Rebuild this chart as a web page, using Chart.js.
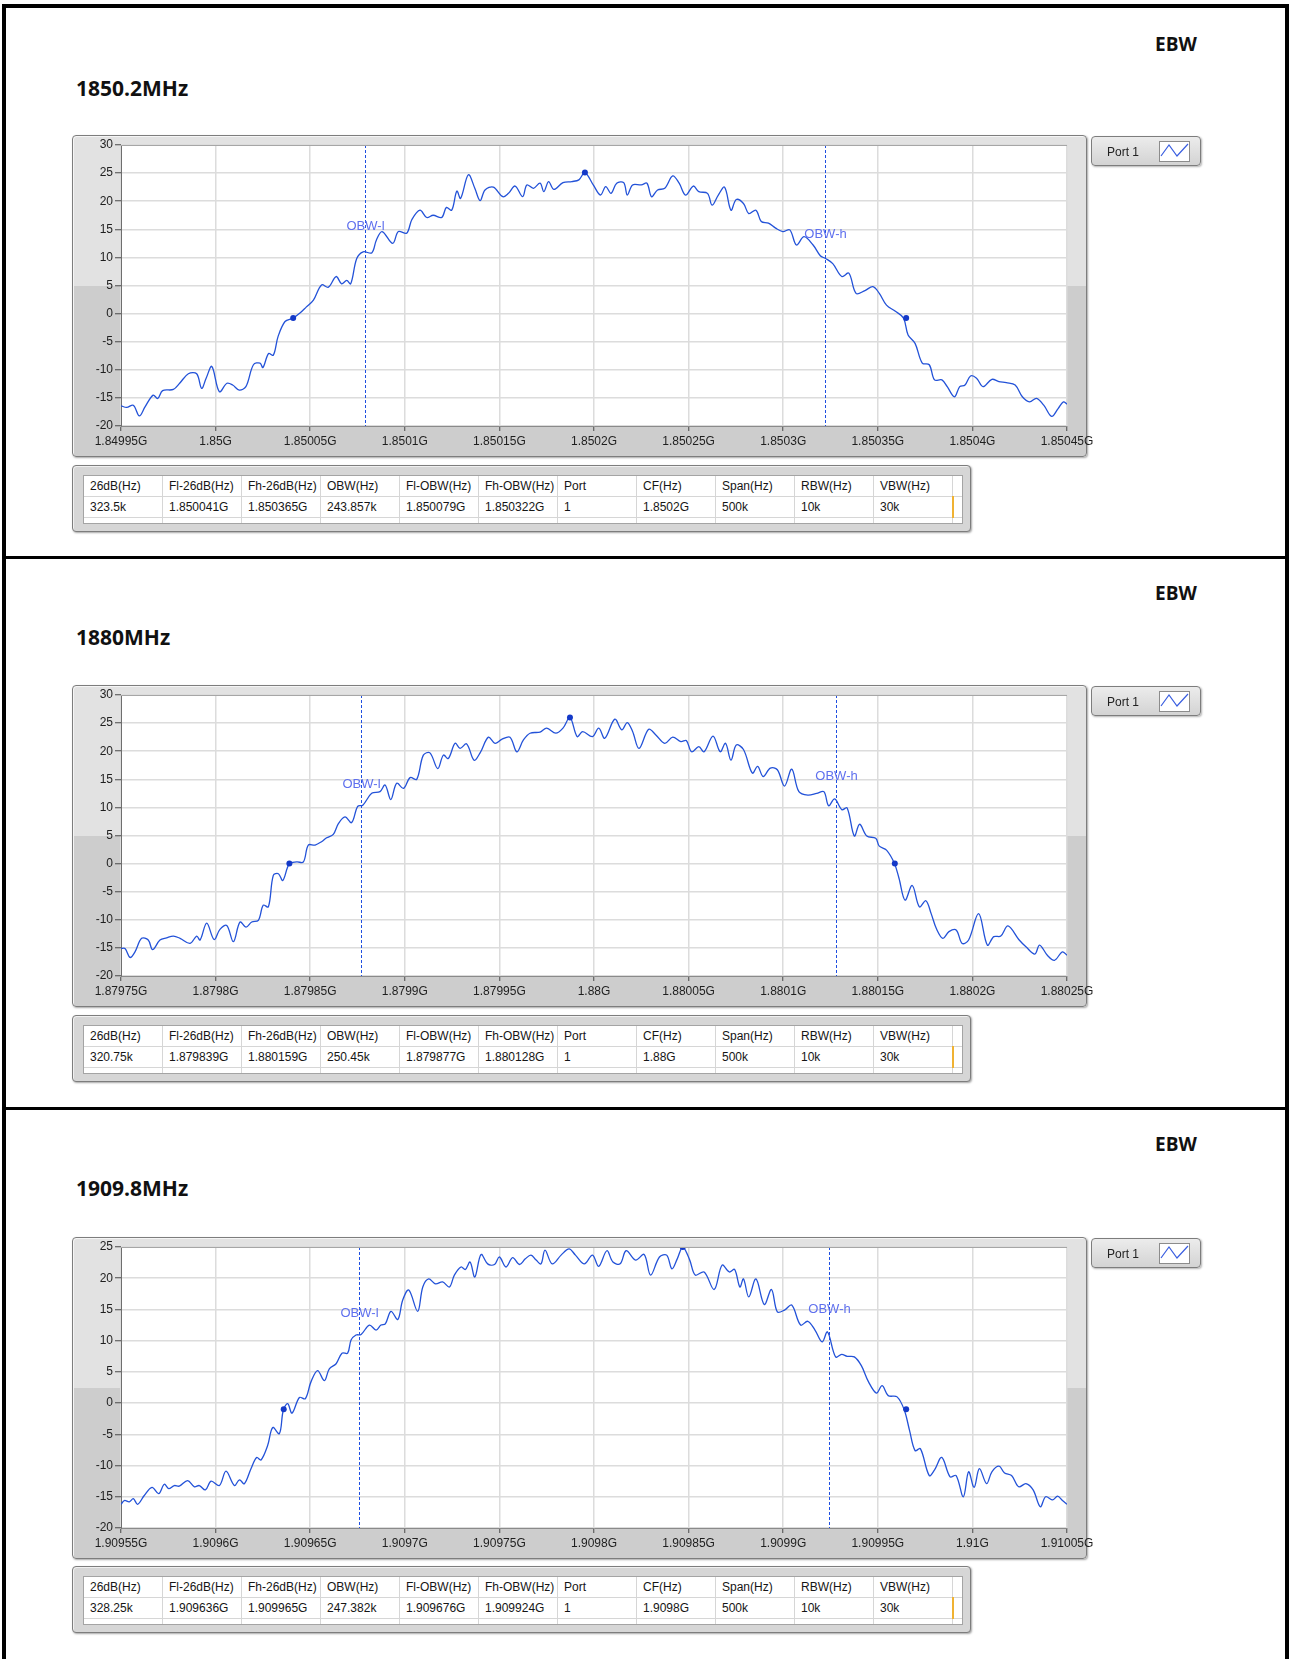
<!DOCTYPE html>
<html>
<head>
<meta charset="utf-8">
<title>EBW</title>
<script src="https://cdn.jsdelivr.net/npm/chart.js@4.4.1/dist/chart.umd.min.js"></script>
<style>
  html, body { margin: 0; padding: 0; background: #fff; }
  body { position: relative; width: 1290px; height: 1659px; overflow: hidden; font-family: "Liberation Sans", Arial, sans-serif; }
  .page { position: absolute; left: 2px; top: 4px; width: 1279px; height: 1700px; border: 4px solid #000; }
  .divider { position: absolute; left: 2px; width: 1287px; height: 3px; background: #000; }
  .ebw { position: absolute; left: 1155px; font: bold 19px "Open Sans", sans-serif; line-height: 19px; color: #111; }
  .title { position: absolute; left: 76px; font: bold 21px "Open Sans", sans-serif; line-height: 21px; color: #111; }
  .frame {
    position: absolute; left: 72px; width: 1015px; height: 322px; box-sizing: border-box;
    border: 1px solid #7d7d7d; border-radius: 4px;
    background: linear-gradient(to bottom, #e2e2e2 0, #e2e2e2 47%, #cdcdcd 47%, #cdcdcd 100%);
    box-shadow: 1px 1px 2px rgba(0, 0, 0, 0.35), inset 1px 1px 0 #f5f5f5;
  }
  canvas.plot { position: absolute; left: 72px; }
  .legend {
    position: absolute; left: 1091px; width: 110px; height: 30px; box-sizing: border-box;
    border: 1px solid #7d7d7d; border-radius: 4px;
    background: linear-gradient(#ececec, #d3d3d3);
    box-shadow: 1px 1px 2px rgba(0, 0, 0, 0.3);
    font-size: 12px; color: #222;
  }
  .legend span { position: absolute; left: 15px; top: 8px; }
  .legend svg { position: absolute; left: 67px; top: 4px; }
  .tbl {
    position: absolute; left: 72px; width: 899px; height: 67px; box-sizing: border-box;
    border: 1px solid #7d7d7d; border-radius: 4px; background: #d6d6d6;
    box-shadow: 1px 1px 2px rgba(0, 0, 0, 0.35), inset 1px 1px 0 #f0f0f0;
  }
  .tbl .inner {
    position: absolute; left: 10px; top: 9px; width: 880px; height: 49px;
    background: #fff; border: 1px solid #a4a4a4; box-sizing: border-box; overflow: hidden;
  }
  .tbl table { border-collapse: collapse; table-layout: fixed; width: 880px; font-size: 12px; color: #151515; margin: -1px 0 0 -1px; }
  .tbl td { border: 1px solid #d6d6d6; padding: 0 0 0 6px; height: 20px; white-space: nowrap; overflow: hidden; }
  .tbl td.mark { border-left: 2px solid #f0b232; }
</style>
</head>
<body>
<div class="page"></div>
<div class="divider" style="top:556px"></div>
<div class="divider" style="top:1107px"></div>
<div id="root"></div>
<script>
const titles = ["1850.2MHz", "1880MHz", "1909.8MHz"]
const spanStartHz = [1849950000, 1879750000, 1909550000]
const spanHz = 500000
const yMin = [-20, -20, -20]
const yMax = [30, 30, 25]

// [kHz from span start, dB]
const trace1 = [[0,-16.4],[3,-16.7],[6.5,-16.3],[9.7,-18.2],[12.7,-16.6],[17,-14.5],[19.4,-15.1],[22,-13.7],[27.7,-13.5],[31,-12.4],[35.6,-10.7],[40,-10.7],[42.6,-13.3],[45,-11.5],[48,-9.4],[52,-13.9],[56,-12.4],[59,-12.7],[62.5,-13.6],[66,-13.0],[70,-9.1],[73.5,-8.8],[75,-9.6],[78,-7.1],[80.5,-7.4],[83,-4.1],[86.7,-1.4],[91,-0.8],[94.6,0.1],[98,1.2],[101.7,2.4],[106,5.1],[109.6,4.7],[113.7,6.6],[116.6,5.3],[119.3,5.9],[121.4,5.3],[124.6,9.8],[128,11.0],[132.5,10.8],[135,13.1],[138,14.6],[143.6,12.5],[146.6,14.6],[151,14.3],[153.7,16.7],[158,18.4],[161.6,17.1],[165,17.5],[169.5,17.1],[172,18.9],[174.8,18.4],[177.5,21.8],[179.5,20.5],[183.6,24.7],[187,22.3],[189.8,20.1],[192.4,22.0],[196.8,22.5],[201.8,20.8],[204.8,21.4],[208.3,22.7],[212.3,20.8],[214.5,22.9],[218,22.3],[221.5,23.2],[223.5,21.7],[226,23.5],[228.8,22.1],[233.6,23.3],[238.3,23.5],[242,23.8],[245.2,25.1],[249.6,22.9],[253.4,21.1],[256.2,22.6],[259,21.4],[262,23.2],[265.7,23.3],[267.6,21.1],[270.4,22.9],[275,22.9],[278,23.2],[280.4,20.8],[283.6,22.0],[287.4,22.3],[291.6,24.5],[295,23.2],[298.4,21.1],[302.5,22.7],[305.4,21.7],[310,21.4],[312.4,19.3],[315.7,21.1],[319,22.5],[322.4,18.4],[325.2,20.3],[329,19.6],[331.8,17.8],[335.6,18.4],[338.4,16.4],[342.2,16.1],[346,15.2],[349.8,14.6],[353.5,14.9],[357,12.2],[361,13.7],[365.8,12.2],[369.6,10.3],[372.4,9.8],[376.2,8.9],[381,6.6],[384.7,7.2],[388.5,3.6],[393.2,4.1],[397.4,4.8],[400.8,3.6],[404.6,1.5],[409.3,0.4],[413.6,-0.8],[416,-3.8],[419.7,-5.3],[423.5,-8.8],[427.2,-9.1],[430,-11.8],[433.9,-11.8],[436.7,-13.0],[440.5,-14.8],[443.3,-13.0],[446.1,-12.7],[449,-11.1],[452.2,-11.5],[455.6,-13.0],[460.3,-11.7],[464,-12.1],[467.9,-12.3],[472.6,-12.7],[476.4,-14.8],[480.2,-15.7],[483.9,-15.1],[487.7,-16.3],[491.9,-18.3],[495.3,-16.9],[498.1,-15.7],[500,-16.1]]

const trace2 = [[0,-15.1],[2.1,-15.1],[4.8,-16.7],[7.4,-15.7],[10.9,-13.3],[14.4,-13.6],[16.7,-15.3],[20.6,-13.6],[24.1,-13.2],[27.7,-12.9],[31.2,-13.3],[36.5,-14.2],[40,-12.9],[41.8,-13.6],[45.3,-10.6],[49.2,-13.5],[52.3,-11.7],[55.9,-11.0],[59.4,-13.9],[62.9,-10.4],[66.1,-11.3],[69.1,-10.4],[72.6,-10.1],[75.2,-7.4],[77.9,-7.7],[80.5,-2.1],[83.2,-1.8],[85.5,-3.0],[89,0.0],[92.9,0.3],[96.4,0.3],[99,3.3],[102.6,3.3],[106,3.9],[108.7,4.6],[112.2,5.2],[114.9,7.1],[118.4,8.3],[121.9,7.3],[125.1,10.2],[127.8,10.4],[132.5,12.5],[136.9,12.8],[139.6,14.0],[142.6,11.4],[145.7,14.3],[149.3,13.4],[152.8,15.3],[156.3,15.0],[159.8,19.3],[163.3,19.7],[167.4,16.9],[170.4,19.3],[173,18.7],[176.6,21.4],[179.2,20.5],[182.7,21.3],[186.6,18.4],[189.8,19.7],[194.2,22.5],[197.7,21.4],[201.2,22.1],[205.6,22.5],[209.2,19.9],[212.7,22.0],[216.2,23.2],[221.5,23.4],[225,24.1],[229.8,23.2],[233.6,24.1],[237.3,26.0],[241.1,22.6],[244,23.5],[249.2,22.6],[252.5,24.1],[255.7,22.3],[261,25.7],[264.7,23.8],[267.6,25.1],[270.4,23.5],[273.8,20.5],[278.9,23.9],[282.7,22.9],[287.4,21.4],[291.6,22.5],[295.9,21.7],[298.8,21.9],[301.6,19.9],[305.4,20.8],[308.2,19.9],[312.9,22.7],[316.7,19.9],[319.5,21.4],[322.4,18.4],[325.2,21.1],[329,20.3],[333.7,16.1],[336.5,17.3],[339.4,15.5],[343.2,17.0],[346.9,16.7],[350.7,13.8],[354.5,16.8],[358.3,12.8],[363,12.2],[367.7,12.5],[371.5,12.8],[374,10.3],[377.2,11.5],[381,9.6],[383.8,9.9],[387.6,4.9],[390.4,7.0],[394.2,4.9],[398.9,4.5],[400.8,3.1],[404.6,2.4],[408.7,0.1],[411.2,-2.6],[414.4,-6.5],[418.2,-3.9],[422,-7.7],[425.4,-6.6],[428.2,-8.9],[431,-11.6],[434.4,-13.3],[437.6,-12.1],[441.4,-11.8],[444.6,-14.2],[448,-13.6],[453.3,-8.9],[457.9,-14.5],[461.3,-13.0],[465,-12.9],[468.8,-11.1],[474.5,-13.5],[478.3,-14.8],[483,-16.1],[485.5,-14.5],[489.6,-16.3],[493.4,-17.2],[497.5,-15.7],[500,-16.3]]

const trace3 = [[0,-16.2],[1.8,-15.6],[4.4,-15.8],[6.5,-15.3],[8.8,-16.2],[12.3,-14.8],[16.4,-13.5],[19.9,-14.5],[22.9,-13.0],[25.2,-13.7],[28.2,-13.2],[30.8,-13.3],[35.2,-12.4],[38.8,-13.4],[41.4,-13.2],[44.6,-13.9],[47.6,-12.5],[52,-13.2],[55.5,-10.9],[59.9,-13.2],[62.6,-12.3],[65.2,-12.9],[68.7,-10.5],[71.7,-8.7],[74,-9.1],[77.5,-6.8],[80.2,-3.9],[83.7,-4.9],[85.8,-1.1],[88.1,-0.1],[90.4,-1.6],[94.3,0.9],[97.4,0.7],[100.4,3.4],[103.9,5.2],[107.5,3.6],[110.1,5.5],[113.7,6.3],[116.8,8.0],[119.8,8.0],[121.6,10.1],[124.2,10.9],[126.9,11.0],[131.3,12.5],[134.8,11.7],[137.4,12.5],[139.7,12.7],[142.7,14.7],[146.3,13.4],[148.9,16.5],[152.1,18.1],[156.8,14.7],[159.5,18.6],[162.6,19.9],[166.2,19.1],[170,19.4],[173.6,18.6],[176.2,20.5],[179.7,21.8],[182,21.4],[184.5,22.6],[187,20.2],[190.3,23.8],[193.8,22.3],[197.4,22.2],[200,23.4],[203.5,21.8],[207,23.3],[210.6,22.2],[213.7,23.1],[216.7,23.7],[219.4,22.9],[222,22.3],[224.1,24.5],[227.9,22.3],[232.6,23.7],[236.8,24.7],[240.2,23.7],[244.9,22.3],[249.2,23.7],[252.5,21.9],[256.8,24.4],[260,22.6],[263.8,22.3],[267,24.4],[272,22.9],[276.5,23.8],[279.9,20.5],[284.6,23.4],[288.4,23.7],[291.2,21.5],[294,23.1],[296.9,25.0],[300.6,22.9],[303.5,20.5],[308.2,21.0],[313.5,18.2],[317.7,22.1],[321.5,21.0],[324.3,21.4],[327.1,18.6],[329,19.9],[331.8,17.0],[335.6,19.9],[340,15.8],[343.8,18.2],[346.9,14.6],[350.7,14.9],[354.5,15.7],[359.2,12.5],[363,13.1],[366.8,11.7],[370.6,9.8],[373.4,11.4],[377.7,7.4],[380.9,7.8],[383.8,7.5],[387.6,7.4],[391.3,6.0],[395.1,3.4],[399.3,1.6],[402.3,2.8],[405.5,1.2],[410.2,1.0],[414,-1.1],[416.8,-4.4],[419.7,-7.6],[422.5,-7.3],[427.2,-11.6],[430,-10.7],[433.8,-8.7],[438.2,-11.8],[441.4,-11.6],[445.2,-15.0],[448,-11.0],[450.9,-13.5],[453.7,-10.5],[457.5,-12.9],[460.3,-11.0],[464.1,-10.1],[467,-11.2],[470.7,-11.6],[474.5,-13.4],[478.3,-12.9],[482.1,-13.9],[485.9,-16.6],[488.7,-15.0],[492.5,-15.5],[495,-14.9],[497.6,-15.6],[500,-16.2]]
const traces = [trace1, trace2, trace3]

// marker points: -26 dB edges and peak
const fl26Hz = [1850041000, 1879839000, 1909636000]
const fh26Hz = [1850365000, 1880159000, 1909965000]
const edgeDb = [-0.8, 0.0, -1.0]
const peakKhz = [245.2, 237.3, 296.9]
const peakDb = [25.1, 26.0, 25.0]

// OBW cursor lines and their label heights
const obwLowHz = [1850079000, 1879877000, 1909676000]
const obwHighHz = [1850322000, 1880128000, 1909924000]
const obwLowLabelDb = [15.6, 14.1, 14.4]
const obwHighLabelDb = [14.0, 15.6, 15.0]

const tableHeaders = ["26dB(Hz)", "Fl-26dB(Hz)", "Fh-26dB(Hz)", "OBW(Hz)", "Fl-OBW(Hz)", "Fh-OBW(Hz)", "Port", "CF(Hz)", "Span(Hz)", "RBW(Hz)", "VBW(Hz)"]
const tableRow1 = ["323.5k", "1.850041G", "1.850365G", "243.857k", "1.850079G", "1.850322G", "1", "1.8502G", "500k", "10k", "30k"]
const tableRow2 = ["320.75k", "1.879839G", "1.880159G", "250.45k", "1.879877G", "1.880128G", "1", "1.88G", "500k", "10k", "30k"]
const tableRow3 = ["328.25k", "1.909636G", "1.909965G", "247.382k", "1.909676G", "1.909924G", "1", "1.9098G", "500k", "10k", "30k"]
const tableRows = [tableRow1, tableRow2, tableRow3]

const chartTop = [135, 685, 1237]
const textTop = [0, 549, 1100]
const tableTop = [465, 1015, 1566]

const FONT = "'Liberation Sans', Arial, sans-serif"

const plotBackground = {
  id: "plotBackground",
  beforeDraw(chart) {
    const { ctx, chartArea: a } = chart
    ctx.save()
    ctx.fillStyle = "#ffffff"
    ctx.fillRect(a.left, a.top, a.right - a.left, a.bottom - a.top)
    ctx.restore()
  },
  afterDraw(chart) {
    const { ctx, chartArea: a } = chart
    ctx.save()
    ctx.strokeStyle = "#a6a6a6"
    ctx.lineWidth = 1
    ctx.beginPath()
    ctx.moveTo(a.left, a.top + 0.5)
    ctx.lineTo(a.right, a.top + 0.5)
    ctx.stroke()
    ctx.restore()
  }
}

const obwLines = {
  id: "obwLines",
  afterDatasetsDraw(chart, args, opts) {
    const { ctx, chartArea: a, scales: { x, y } } = chart
    ctx.save()
    opts.lines.forEach(line => {
      const px = Math.round(x.getPixelForValue(line.hz)) + 0.5
      ctx.strokeStyle = "#1f4fe0"
      ctx.lineWidth = 1
      ctx.setLineDash([3, 2])
      ctx.beginPath()
      ctx.moveTo(px, a.top)
      ctx.lineTo(px, a.bottom)
      ctx.stroke()
      ctx.setLineDash([])
      ctx.fillStyle = "#5f70ee"
      ctx.font = "13px " + FONT
      ctx.textAlign = "center"
      ctx.textBaseline = "middle"
      ctx.fillText(line.label, px, y.getPixelForValue(line.db))
    })
    ctx.restore()
  }
}

function formatG(v) {
  return parseFloat((v / 1e9).toFixed(5)) + "G"
}

function buildPanel(i) {
  const root = document.getElementById("root")
  const html = `
    <div class="ebw" style="top:${35 + textTop[i]}px">EBW</div>
    <div class="title" style="top:${78 + textTop[i]}px">${titles[i]}</div>
    <div class="frame" style="top:${chartTop[i]}px"></div>
    <canvas class="plot" id="plot${i}" width="1045" height="322" style="top:${chartTop[i]}px"></canvas>
    <div class="legend" style="top:${chartTop[i] + 1}px"><span>Port 1</span>
      <svg width="31" height="21"><rect x="0.5" y="0.5" width="30" height="20" fill="#fff" stroke="#8c8c8c"/>
      <polyline points="2,15 10,4 18,15 29,3" fill="none" stroke="#3a5ee0" stroke-width="1.2"/></svg></div>
    <div class="tbl" style="top:${tableTop[i]}px"><div class="inner"><table>
      <colgroup>${tableHeaders.map(() => '<col style="width:79px">').join("")}<col style="width:11px"></colgroup>
      <tr style="height:21px">${tableHeaders.map(h => `<td>${h}</td>`).join("")}<td></td></tr>
      <tr style="height:21px">${tableRows[i].map(v => `<td>${v}</td>`).join("")}<td class="mark"></td></tr>
      <tr>${tableHeaders.map(() => "<td></td>").join("")}<td></td></tr>
    </table></div></div>`
  root.insertAdjacentHTML("beforeend", html)

  const start = spanStartHz[i]
  const points = traces[i].map(([k, db]) => ({ x: start + k * 1000, y: db }))
  const markers = [
    { x: fl26Hz[i], y: edgeDb[i] },
    { x: start + peakKhz[i] * 1000, y: peakDb[i] },
    { x: fh26Hz[i], y: edgeDb[i] }
  ]

  new Chart(document.getElementById("plot" + i), {
    type: "line",
    data: {
      datasets: [
        {
          data: points,
          borderColor: "#2352d8",
          borderWidth: 1.3,
          pointRadius: 0,
          tension: 0.35,
          fill: false,
          order: 2
        },
        {
          data: markers,
          showLine: false,
          pointRadius: 3,
          pointBackgroundColor: "#1439c8",
          pointBorderWidth: 0,
          order: 1
        }
      ]
    },
    options: {
      responsive: false,
      animation: false,
      events: [],
      layout: { padding: { left: 0, right: 50, top: 10, bottom: 0 } },
      scales: {
        x: {
          type: "linear",
          min: start,
          max: start + spanHz,
          afterFit: s => { s.height = 31; s.paddingLeft = 0; s.paddingRight = 0 },
          ticks: {
            stepSize: 50000,
            autoSkip: false,
            maxRotation: 0,
            padding: 3,
            color: "#1e1e1e",
            font: { family: FONT, size: 12 },
            callback: v => formatG(v)
          },
          grid: { color: "#dcdcdc", lineWidth: 1.5, tickLength: 5, tickColor: "#4a4a4a", tickWidth: 1 },
          border: { color: "#8a8a8a" }
        },
        y: {
          min: yMin[i],
          max: yMax[i],
          afterFit: s => { s.width = 49; s.paddingTop = 0; s.paddingBottom = 0 },
          ticks: {
            stepSize: 5,
            padding: 2,
            color: "#1e1e1e",
            font: { family: FONT, size: 12 }
          },
          grid: { color: "#dcdcdc", lineWidth: 1.5, tickLength: 6, tickColor: "#4a4a4a", tickWidth: 1 },
          border: { color: "#6e6e6e" }
        }
      },
      plugins: {
        legend: { display: false },
        tooltip: { enabled: false },
        obwLines: {
          lines: [
            { hz: obwLowHz[i], label: "OBW-l", db: obwLowLabelDb[i] },
            { hz: obwHighHz[i], label: "OBW-h", db: obwHighLabelDb[i] }
          ]
        }
      }
    },
    plugins: [plotBackground, obwLines]
  })
}

[0, 1, 2].forEach(buildPanel)
</script>
</body>
</html>
